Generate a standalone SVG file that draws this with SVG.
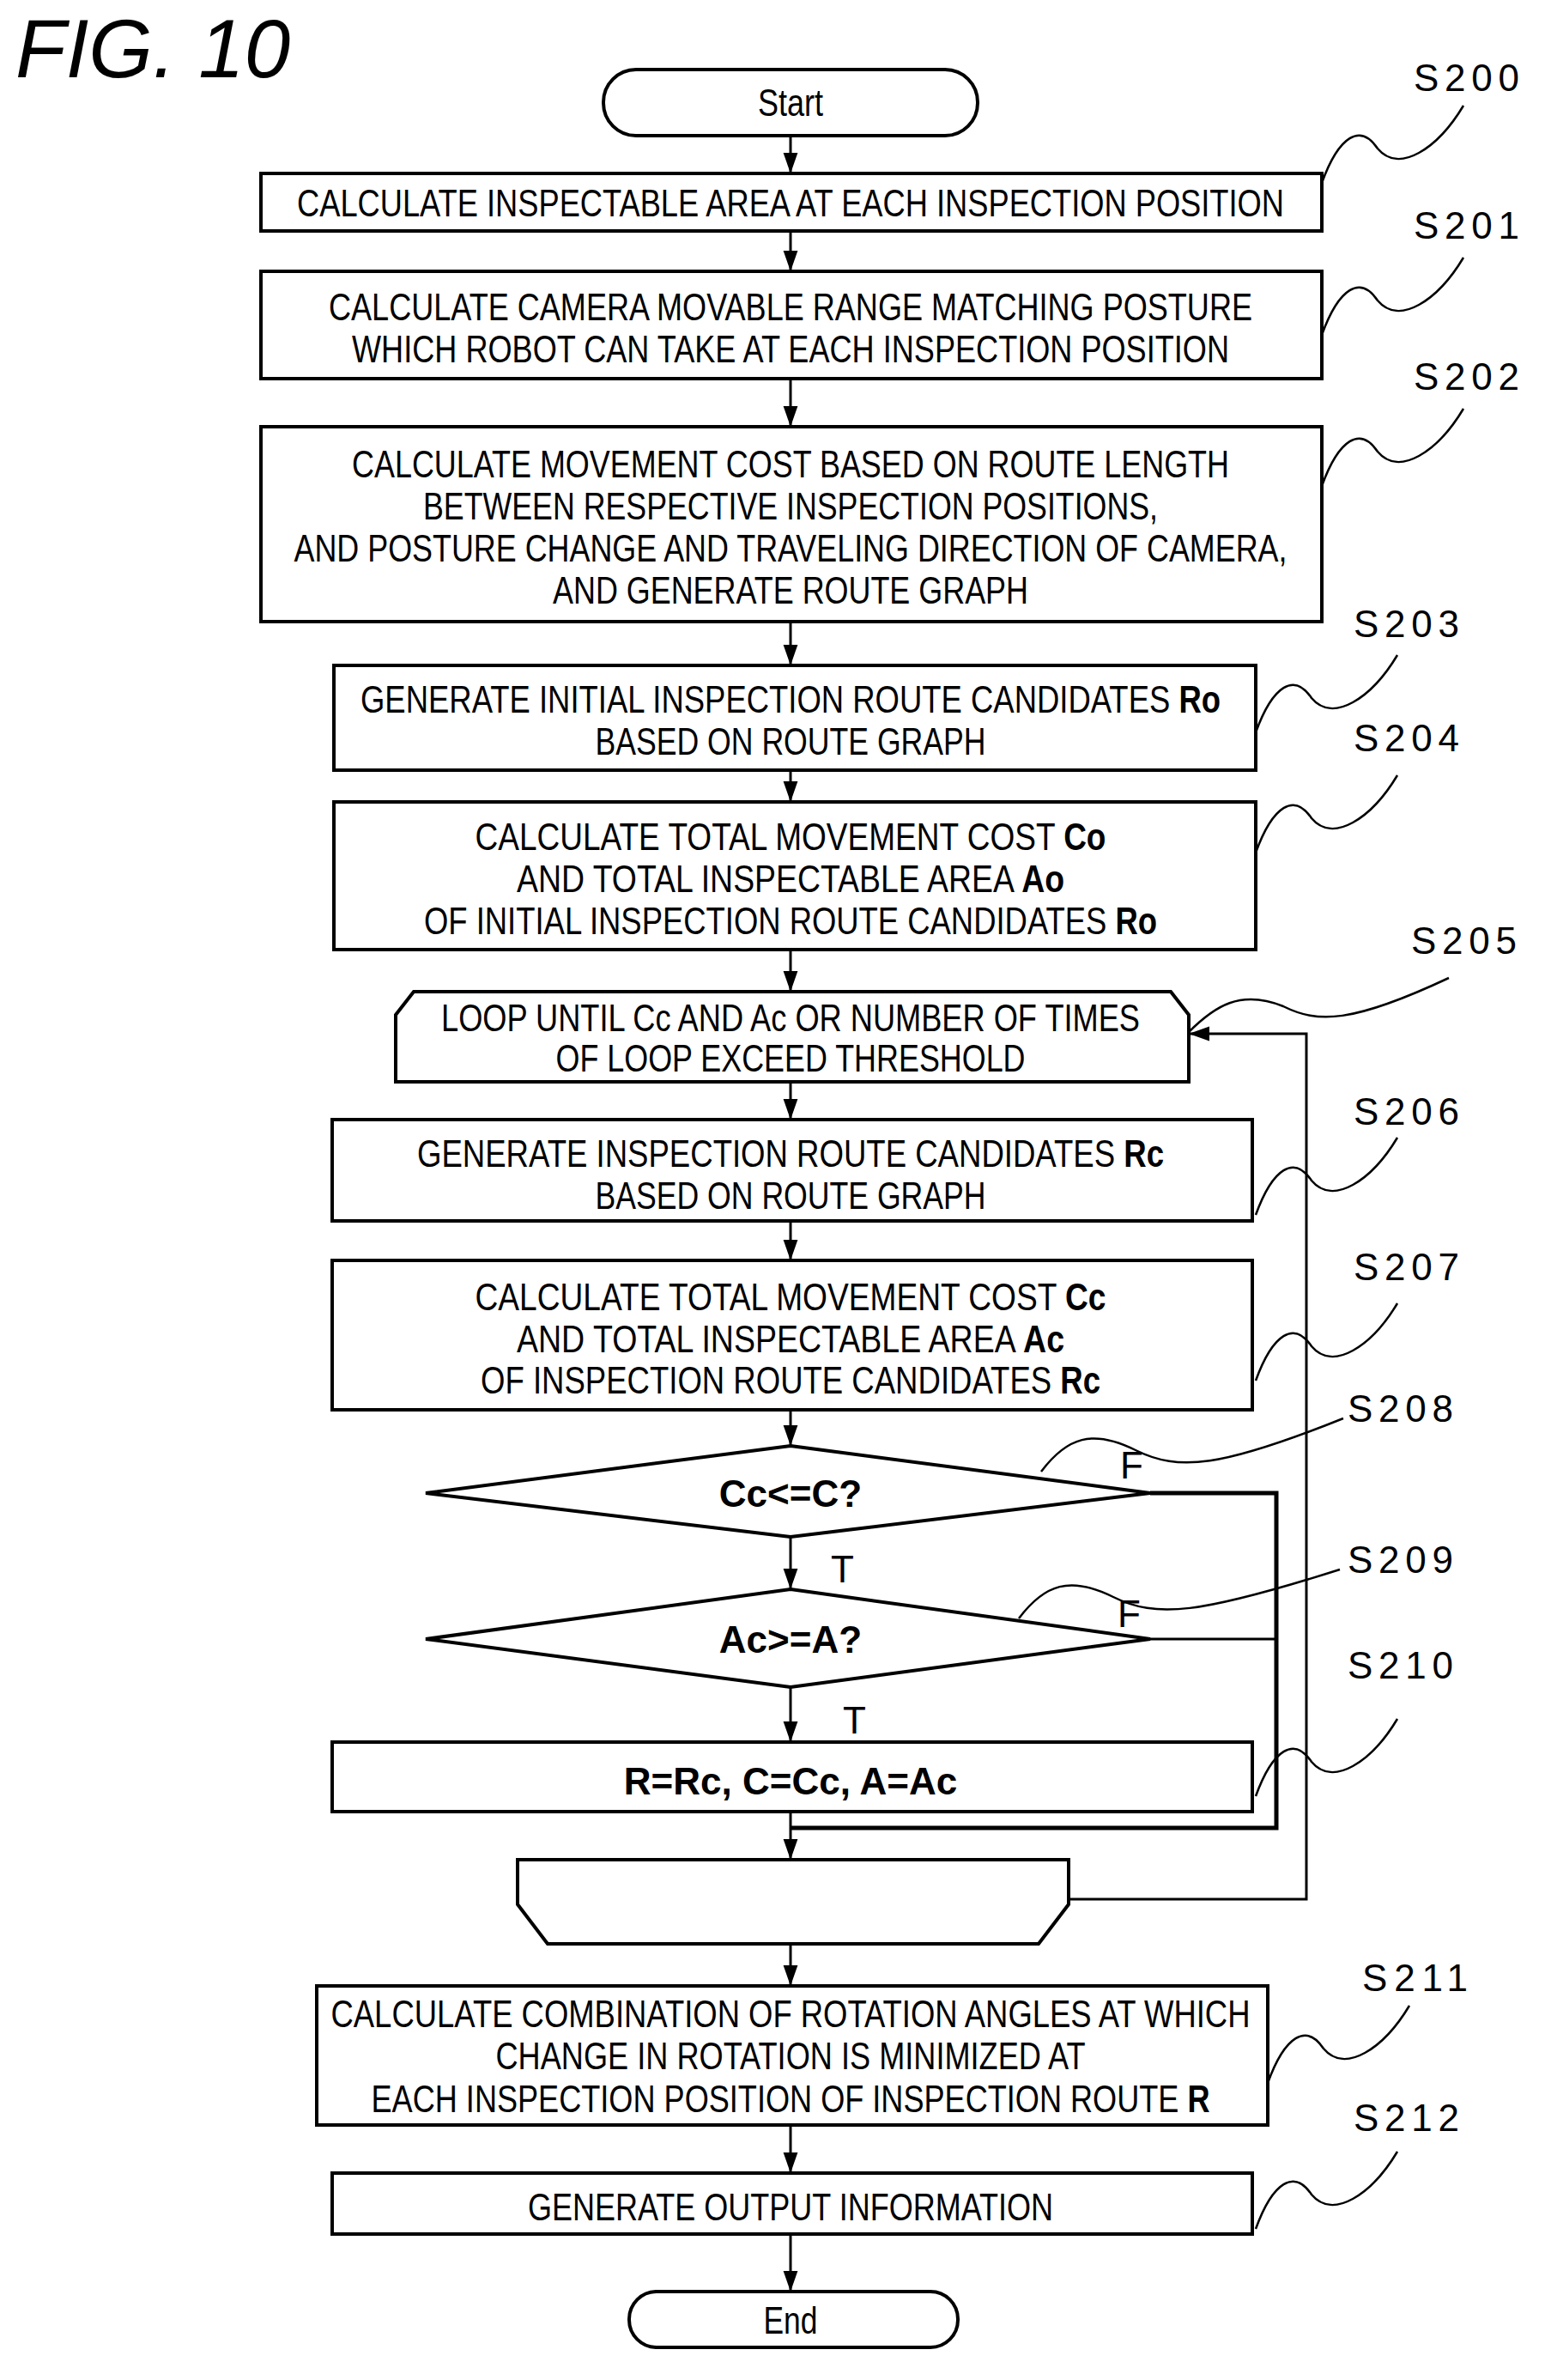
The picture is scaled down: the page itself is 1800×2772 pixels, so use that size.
<svg xmlns="http://www.w3.org/2000/svg" width="1800" height="2772" viewBox="0 0 1800 2772">
<style>
.b{fill:#fff;stroke:#000;stroke-width:4}
.t{font-family:"Liberation Sans Narrow","Liberation Sans",Arial,sans-serif;font-size:44px;text-anchor:middle;fill:#000}
.l{font-family:"Liberation Sans",Arial,sans-serif;font-size:44px;fill:#000}
.c{fill:none;stroke:#000;stroke-width:3}
.w{fill:none;stroke:#000;stroke-width:2.5}
</style>
<defs>
<marker id="ah" viewBox="0 0 10 10" refX="10" refY="5" markerWidth="24" markerHeight="24" markerUnits="userSpaceOnUse" orient="auto"><path d="M0,1.5L10,5L0,8.5z"/></marker></defs>
<text x="18" y="90" font-family="Liberation Sans,Arial,sans-serif" font-style="italic" font-size="96">FIG. 10</text>
<g id="connectors" class="c">
<path d="M921 158V202" marker-end="url(#ah)"/>
<path d="M921 269V316" marker-end="url(#ah)"/>
<path d="M921 441V497" marker-end="url(#ah)"/>
<path d="M921 724V775" marker-end="url(#ah)"/>
<path d="M921 897V934" marker-end="url(#ah)"/>
<path d="M921 1106V1155" marker-end="url(#ah)"/>
<path d="M921 1260V1304" marker-end="url(#ah)"/>
<path d="M921 1422V1468" marker-end="url(#ah)"/>
<path d="M921 1642V1684" marker-end="url(#ah)"/>
<path d="M921 1790V1851" marker-end="url(#ah)"/>
<path d="M921 1965V2029" marker-end="url(#ah)"/>
<path d="M921 2110V2166" marker-end="url(#ah)"/>
<path d="M921 2264V2313" marker-end="url(#ah)"/>
<path d="M921 2475V2531" marker-end="url(#ah)"/>
<path d="M921 2602V2669" marker-end="url(#ah)"/>
<path d="M1340 1739H1487V2129H921" stroke-width="5"/>
<path d="M1340 1909H1487"/>
<path d="M1245 2212H1522V1204H1385" marker-end="url(#ah)"/>
</g>
<g id="start"><rect class="b" x="703" y="81" width="436" height="77" rx="38"/><text class="t" x="921" y="135" textLength="76" lengthAdjust="spacingAndGlyphs">Start</text></g>
<g id="S200"><rect class="b" x="304" y="202" width="1236" height="67"/><text class="t" x="921" y="252" textLength="1150" lengthAdjust="spacingAndGlyphs">CALCULATE INSPECTABLE AREA AT EACH INSPECTION POSITION</text></g>
<g id="S201"><rect class="b" x="304" y="316" width="1236" height="125"/><text class="t" x="921" y="373" textLength="1076" lengthAdjust="spacingAndGlyphs">CALCULATE CAMERA MOVABLE RANGE MATCHING POSTURE</text><text class="t" x="921" y="422" textLength="1022" lengthAdjust="spacingAndGlyphs">WHICH ROBOT CAN TAKE AT EACH INSPECTION POSITION</text></g>
<g id="S202"><rect class="b" x="304" y="497" width="1236" height="227"/><text class="t" x="921" y="556" textLength="1022" lengthAdjust="spacingAndGlyphs">CALCULATE MOVEMENT COST BASED ON ROUTE LENGTH</text><text class="t" x="921" y="605" textLength="856" lengthAdjust="spacingAndGlyphs">BETWEEN RESPECTIVE INSPECTION POSITIONS,</text><text class="t" x="921" y="654" textLength="1157" lengthAdjust="spacingAndGlyphs">AND POSTURE CHANGE AND TRAVELING DIRECTION OF CAMERA,</text><text class="t" x="921" y="703" textLength="554" lengthAdjust="spacingAndGlyphs">AND GENERATE ROUTE GRAPH</text></g>
<g id="S203"><rect class="b" x="389" y="775" width="1074" height="122"/><text class="t" x="921" y="830" textLength="1002" lengthAdjust="spacingAndGlyphs">GENERATE INITIAL INSPECTION ROUTE CANDIDATES <tspan font-weight="bold">Ro</tspan></text><text class="t" x="921" y="879" textLength="455" lengthAdjust="spacingAndGlyphs">BASED ON ROUTE GRAPH</text></g>
<g id="S204"><rect class="b" x="389" y="934" width="1074" height="172"/><text class="t" x="921" y="990" textLength="735" lengthAdjust="spacingAndGlyphs">CALCULATE TOTAL MOVEMENT COST <tspan font-weight="bold">Co</tspan></text><text class="t" x="921" y="1039" textLength="638" lengthAdjust="spacingAndGlyphs">AND TOTAL INSPECTABLE AREA <tspan font-weight="bold">Ao</tspan></text><text class="t" x="921" y="1088" textLength="854" lengthAdjust="spacingAndGlyphs">OF INITIAL INSPECTION ROUTE CANDIDATES <tspan font-weight="bold">Ro</tspan></text></g>
<g id="S205"><path class="b" d="M482 1155H1364L1385 1182V1260H461V1182Z"/><text class="t" x="921" y="1201" textLength="814" lengthAdjust="spacingAndGlyphs">LOOP UNTIL Cc AND Ac OR NUMBER OF TIMES</text><text class="t" x="921" y="1248" textLength="547" lengthAdjust="spacingAndGlyphs">OF LOOP EXCEED THRESHOLD</text></g>
<g id="S206"><rect class="b" x="387" y="1304" width="1072" height="118"/><text class="t" x="921" y="1359" textLength="870" lengthAdjust="spacingAndGlyphs">GENERATE INSPECTION ROUTE CANDIDATES <tspan font-weight="bold">Rc</tspan></text><text class="t" x="921" y="1408" textLength="455" lengthAdjust="spacingAndGlyphs">BASED ON ROUTE GRAPH</text></g>
<g id="S207"><rect class="b" x="387" y="1468" width="1072" height="174"/><text class="t" x="921" y="1526" textLength="735" lengthAdjust="spacingAndGlyphs">CALCULATE TOTAL MOVEMENT COST <tspan font-weight="bold">Cc</tspan></text><text class="t" x="921" y="1575" textLength="638" lengthAdjust="spacingAndGlyphs">AND TOTAL INSPECTABLE AREA <tspan font-weight="bold">Ac</tspan></text><text class="t" x="921" y="1623" textLength="722" lengthAdjust="spacingAndGlyphs">OF INSPECTION ROUTE CANDIDATES <tspan font-weight="bold">Rc</tspan></text></g>
<g id="S208"><path class="b" d="M921 1684L1340 1739L921 1790L496 1739Z"/><text class="t" x="921" y="1755" font-weight="bold">Cc&lt;=C?</text></g>
<g id="S209"><path class="b" d="M921 1851L1340 1909L921 1965L496 1909Z"/><text class="t" x="921" y="1925" font-weight="bold">Ac&gt;=A?</text></g>
<g id="S210"><rect class="b" x="387" y="2029" width="1072" height="81"/><text class="t" x="921" y="2090" font-weight="bold">R=Rc, C=Cc, A=Ac</text></g>
<g id="loopend"><path class="b" d="M603 2166H1245V2218L1210 2264H638L603 2218Z"/></g>
<g id="S211"><rect class="b" x="369" y="2313" width="1108" height="162"/><text class="t" x="921" y="2361" textLength="1071" lengthAdjust="spacingAndGlyphs">CALCULATE COMBINATION OF ROTATION ANGLES AT WHICH</text><text class="t" x="921" y="2410" textLength="687" lengthAdjust="spacingAndGlyphs">CHANGE IN ROTATION IS MINIMIZED AT</text><text class="t" x="921" y="2460" textLength="977" lengthAdjust="spacingAndGlyphs">EACH INSPECTION POSITION OF INSPECTION ROUTE <tspan font-weight="bold">R</tspan></text></g>
<g id="S212"><rect class="b" x="387" y="2531" width="1072" height="71"/><text class="t" x="921" y="2586" textLength="612" lengthAdjust="spacingAndGlyphs">GENERATE OUTPUT INFORMATION</text></g>
<g id="end"><rect class="b" x="733" y="2669" width="383" height="65" rx="32"/><text class="t" x="921" y="2718" textLength="63" lengthAdjust="spacingAndGlyphs">End</text></g>
<g id="labels">
<text class="l" x="1647" y="106" textLength="123">S200</text><text class="l" x="1647" y="278" textLength="123">S201</text><text class="l" x="1647" y="454" textLength="123">S202</text>
<text class="l" x="1577" y="742" textLength="123">S203</text><text class="l" x="1577" y="875" textLength="123">S204</text><text class="l" x="1644" y="1111" textLength="123">S205</text>
<text class="l" x="1577" y="1310" textLength="123">S206</text><text class="l" x="1577" y="1491" textLength="123">S207</text><text class="l" x="1570" y="1656" textLength="123">S208</text>
<text class="l" x="1570" y="1832" textLength="123">S209</text><text class="l" x="1570" y="1955" textLength="123">S210</text><text class="l" x="1587" y="2319" textLength="123">S211</text>
<text class="l" x="1577" y="2482" textLength="123">S212</text>
<text class="l" x="1305" y="1722">F</text><text class="l" x="1302" y="1895">F</text>
<text class="l" x="968" y="1843">T</text><text class="l" x="982" y="2019">T</text>
</g>
<g id="leaders" class="w">
<path d="M1540 213c20-55 45-70 65-40c25 30 70 0 100-50"/>
<path d="M1540 390c20-55 45-70 65-40c25 30 70 0 100-50"/>
<path d="M1540 566c20-55 45-70 65-40c25 30 70 0 100-50"/>
<path d="M1463 853c20-55 45-70 65-40c25 30 70 0 100-50"/>
<path d="M1463 993c20-55 45-70 65-40c25 30 70 0 100-50"/>
<path d="M1463 1415c20-55 45-70 65-40c25 30 70 0 100-50"/>
<path d="M1463 1608c20-55 45-70 65-40c25 30 70 0 100-50"/>
<path d="M1463 2092c20-55 45-70 65-40c25 30 70 0 100-50"/>
<path d="M1477 2426c20-55 45-70 65-40c25 30 70 0 100-50"/>
<path d="M1463 2596c20-55 45-70 65-40c25 30 70 0 100-50"/>
<path d="M1385 1202c30-30 60-50 110-30c40 20 80 20 193-33"/>
<path d="M1213 1714c30-40 60-50 110-25c50 25 100 20 242-37"/>
<path d="M1187 1885c30-40 60-50 110-25c50 25 100 20 264-32"/>
</g>
</svg>
